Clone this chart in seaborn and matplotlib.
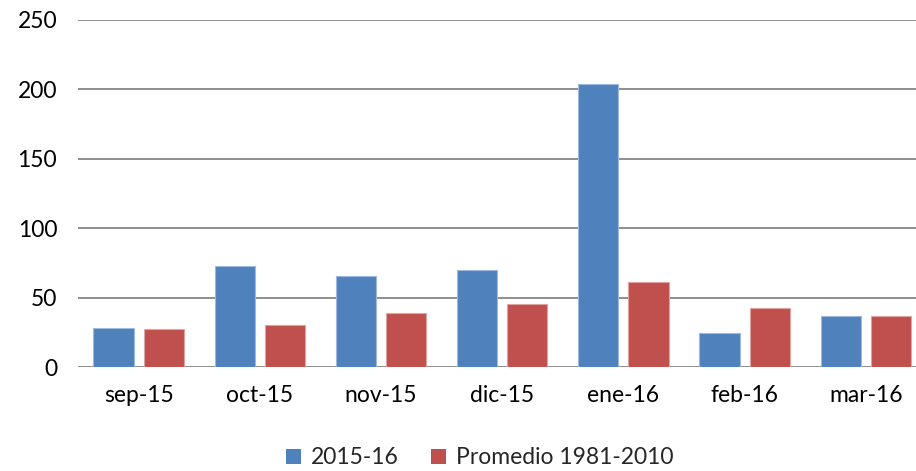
import matplotlib
matplotlib.use("Agg")
import matplotlib.pyplot as plt
import seaborn as sns
import pandas as pd
from matplotlib.patches import Patch

categories = ["sep-15", "oct-15", "nov-15", "dic-15", "ene-16", "feb-16", "mar-16"]
series_names = ["2015-16", "Promedio 1981-2010"]
values_2015 = [28.1, 73.1, 65.9, 70.0, 203.6, 24.9, 37.1]
values_prom = [27.3, 30.2, 38.8, 45.3, 61.1, 42.9, 37.1]
colors = ["#4F81BD", "#C0504D"]
edge_colors = ["#9DB9DE", "#E0A3A1"]
yticks = [0, 50, 100, 150, 200, 250]

df = pd.DataFrame({
    "mes": categories * 2,
    "serie": [series_names[0]] * len(categories) + [series_names[1]] * len(categories),
    "valor": values_2015 + values_prom,
})

sns.set_theme(style="white")
plt.rcParams["font.family"] = ["Lato", "DejaVu Sans"]

fig = plt.figure(figsize=(9.16, 4.71), dpi=100)
ax = fig.add_axes([78 / 916, 1 - 367.3 / 471, 838 / 916, (367.3 - 20) / 471])

sns.barplot(data=df, x="mes", y="valor", hue="serie", order=categories,
            hue_order=series_names, palette=colors, width=0.828, gap=0.2,
            ax=ax, legend=False, saturation=1, linewidth=0)

for i, container in enumerate(ax.containers):
    for bar in container:
        bar.set_edgecolor(edge_colors[i])
        bar.set_linewidth(0.8)

ax.set_xlim(-0.5, 6.414)
ax.set_ylim(0, 250)
ax.set_yticks(yticks)
ax.set_yticklabels([str(t) for t in yticks])
ax.set_xlabel("")
ax.set_ylabel("")
for s in ax.spines.values():
    s.set_visible(False)
ax.set_axisbelow(True)
ax.yaxis.grid(True, color="#868686", linewidth=1.3)
ax.xaxis.grid(False)
ax.tick_params(axis="y", length=0, pad=15, labelsize=16.5, colors="#000000")
ax.tick_params(axis="x", length=0, pad=13, labelsize=16.5, colors="#000000")

handles = [Patch(facecolor=colors[0], edgecolor="none", label=series_names[0]),
           Patch(facecolor=colors[1], edgecolor="none", label=series_names[1])]
fig.legend(handles=handles, loc="center", bbox_to_anchor=(480 / 916, 1 - 458 / 471),
           ncol=2, frameon=False, fontsize=16.5, handlelength=0.65, handleheight=0.65,
           handletextpad=0.45, columnspacing=1.4)

fig.savefig("out.png", dpi=100)
